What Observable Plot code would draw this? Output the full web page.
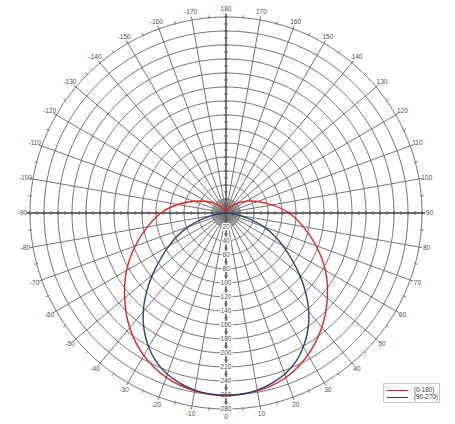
<!DOCTYPE html>
<html>
<head>
<meta charset="utf-8">
<script src="https://cdn.jsdelivr.net/npm/d3@7"></script>
<script src="https://cdn.jsdelivr.net/npm/@observablehq/plot@0.6"></script>
<style>
  body { margin: 0; background: #fff; }
  #wrap { position: relative; width: 455px; height: 424px; }
  #legend { position: absolute; left: 383px; top: 383px; width: 57px; height: 20px;
    border: 1px solid #c8c8c8; background: #fff; box-sizing: border-box;
    font: 6.3px "Liberation Sans", Arial, sans-serif; color: #333; }
  .item { position: absolute; left: 2px; height: 7px; width: 54px; }
  .sw { position: absolute; left: 1px; top: 3px; width: 21px; height: 0; border-top: 1.4px solid; }
  .lb { position: absolute; left: 28px; top: -1px; line-height: 8px; white-space: nowrap; }
</style>
</head>
<body>
<div id="wrap">
  <div id="chart"></div>
  <div id="legend"></div>
</div>
<script>
// ---- data ----
const seriesNames = ["(0-180)", "(90-270)"];
const seriesColors = ["#d9261c", "#2b4170"];

// red: C0-C180 plane, gamma angle (deg) vs intensity
const redAngles = [-180,-170,-160,-150,-140,-130,-120,-110,-100,-90,-80,-70,-60,-50,-40,-30,-20,-10,0,10,20,30,40,50,60,70,80,90,100,110,120,130,140,150,160,170,180];
const redValues = [0,1,3,7,13,22,33,49,70,93,114,138,164,189,214,235,250,258,260,258,250,234,213,189,164,137,112,90,67,48,34,22,13,7,3,1,0];

// blue: C90-C270 plane
const blueAngles = [-90,-85,-80,-75,-70,-65,-60,-55,-50,-45,-40,-35,-30,-25,-20,-15,-10,-5,0,5,10,15,20,25,30,35,40,45,50,55,60,65,70,75,80,85,90];
const blueValues = [0,6,19,37,57,76,94,114,137,161,184,204,221,235,245,252,257,260,261,260,257,252,245,235,221,204,184,161,137,114,94,76,57,37,19,6,0];

// grid / tick labels
const ringLabels = [20,40,60,80,100,120,140,160,180,200,220,240,260,280];
const angleLabels = [-170,-160,-150,-140,-130,-120,-110,-100,-90,-80,-70,-60,-50,-40,-30,-20,-10,0,10,20,30,40,50,60,70,80,90,100,110,120,130,140,150,160,170,180];

// ---- polar helpers (gamma 0 at bottom, +90 at right) ----
const rMax = 280;
const rad = a => a * Math.PI / 180;
const px = (r, a) => r * Math.sin(rad(a));
const py = (r, a) => -r * Math.cos(rad(a));

const ringPts = ringLabels.flatMap(r => d3.range(0, 361, 2).map(a => ({r, a})));
const spokes = d3.range(-170, 181, 10);
const minorSpokes = d3.range(-175, 180, 10);
const innerSpokes = d3.range(-180, 180, 5);
const axisTicks = d3.range(-280, 281, 10).filter(v => v !== 0);

const red = redAngles.map((a, i) => ({a, r: redValues[i]}));
const blue = blueAngles.map((a, i) => ({a, r: blueValues[i]}));

const gridColor = "#747474";
const labelColor = "#4a4a4a";

const chart = Plot.plot({
  width: 455,
  height: 424,
  marginLeft: 29.5,
  marginRight: 33.5,
  marginTop: 16.5,
  marginBottom: 15.5,
  x: {domain: [-rMax, rMax], axis: null},
  y: {domain: [-rMax, rMax], axis: null},
  style: {fontFamily: "'Liberation Sans', Arial, sans-serif", background: "#fff"},
  marks: [
    // rings
    Plot.line(ringPts, {x: d => px(d.r, d.a), y: d => py(d.r, d.a), z: "r", stroke: gridColor, strokeWidth: 1}),
    // inner dense spokes
    Plot.link(innerSpokes, {x1: () => 0, y1: () => 0, x2: a => px(20, a), y2: a => py(20, a), stroke: gridColor, strokeWidth: 0.7}),
    // main spokes (extend slightly past outer ring)
    Plot.link(spokes, {x1: () => 0, y1: () => 0, x2: a => px(rMax + 4.5, a), y2: a => py(rMax + 4.5, a), stroke: gridColor, strokeWidth: 1}),
    // minor ticks on the outer ring
    Plot.link(minorSpokes, {x1: a => px(rMax - 1.5, a), y1: a => py(rMax - 1.5, a), x2: a => px(rMax + 3.5, a), y2: a => py(rMax + 3.5, a), stroke: gridColor, strokeWidth: 1}),
    // main axes
    Plot.link([0, 90, 180, -90], {x1: () => 0, y1: () => 0, x2: a => px(rMax + 4.5, a), y2: a => py(rMax + 4.5, a), stroke: "#555", strokeWidth: 1.3}),
    // axis ticks
    Plot.link(axisTicks, {x1: v => v, y1: () => -2.8, x2: v => v, y2: () => 2.8, stroke: "#555", strokeWidth: 0.9}),
    Plot.link(axisTicks, {x1: () => -2.8, y1: v => v, x2: () => 2.8, y2: v => v, stroke: "#555", strokeWidth: 0.9}),
    // angle labels
    Plot.text(angleLabels, {x: a => px(291, a), y: a => py(291, a), text: a => String(a), fill: labelColor, fontSize: 6.5}),
    // ring labels along the 0 direction
    Plot.text(ringLabels, {x: () => 0, y: r => -r, text: r => String(r), fill: labelColor, fontSize: 6.5, stroke: "#fff", strokeWidth: 2.5}),
    // data curves
    Plot.line(red, {x: d => px(d.r, d.a), y: d => py(d.r, d.a), stroke: seriesColors[0], strokeWidth: 1.4, curve: "catmull-rom"}),
    Plot.line(blue, {x: d => px(d.r, d.a), y: d => py(d.r, d.a), stroke: seriesColors[1], strokeWidth: 1.4, curve: "catmull-rom"})
  ]
});
document.getElementById("chart").appendChild(chart);

// legend
const legend = document.getElementById("legend");
seriesNames.forEach((name, i) => {
  const it = document.createElement("div");
  it.className = "item";
  it.style.top = (3 + i * 7) + "px";
  const sw = document.createElement("div");
  sw.className = "sw";
  sw.style.borderTopColor = seriesColors[i];
  const lb = document.createElement("div");
  lb.className = "lb";
  lb.textContent = name;
  it.appendChild(sw);
  it.appendChild(lb);
  legend.appendChild(it);
});
</script>
</body>
</html>
